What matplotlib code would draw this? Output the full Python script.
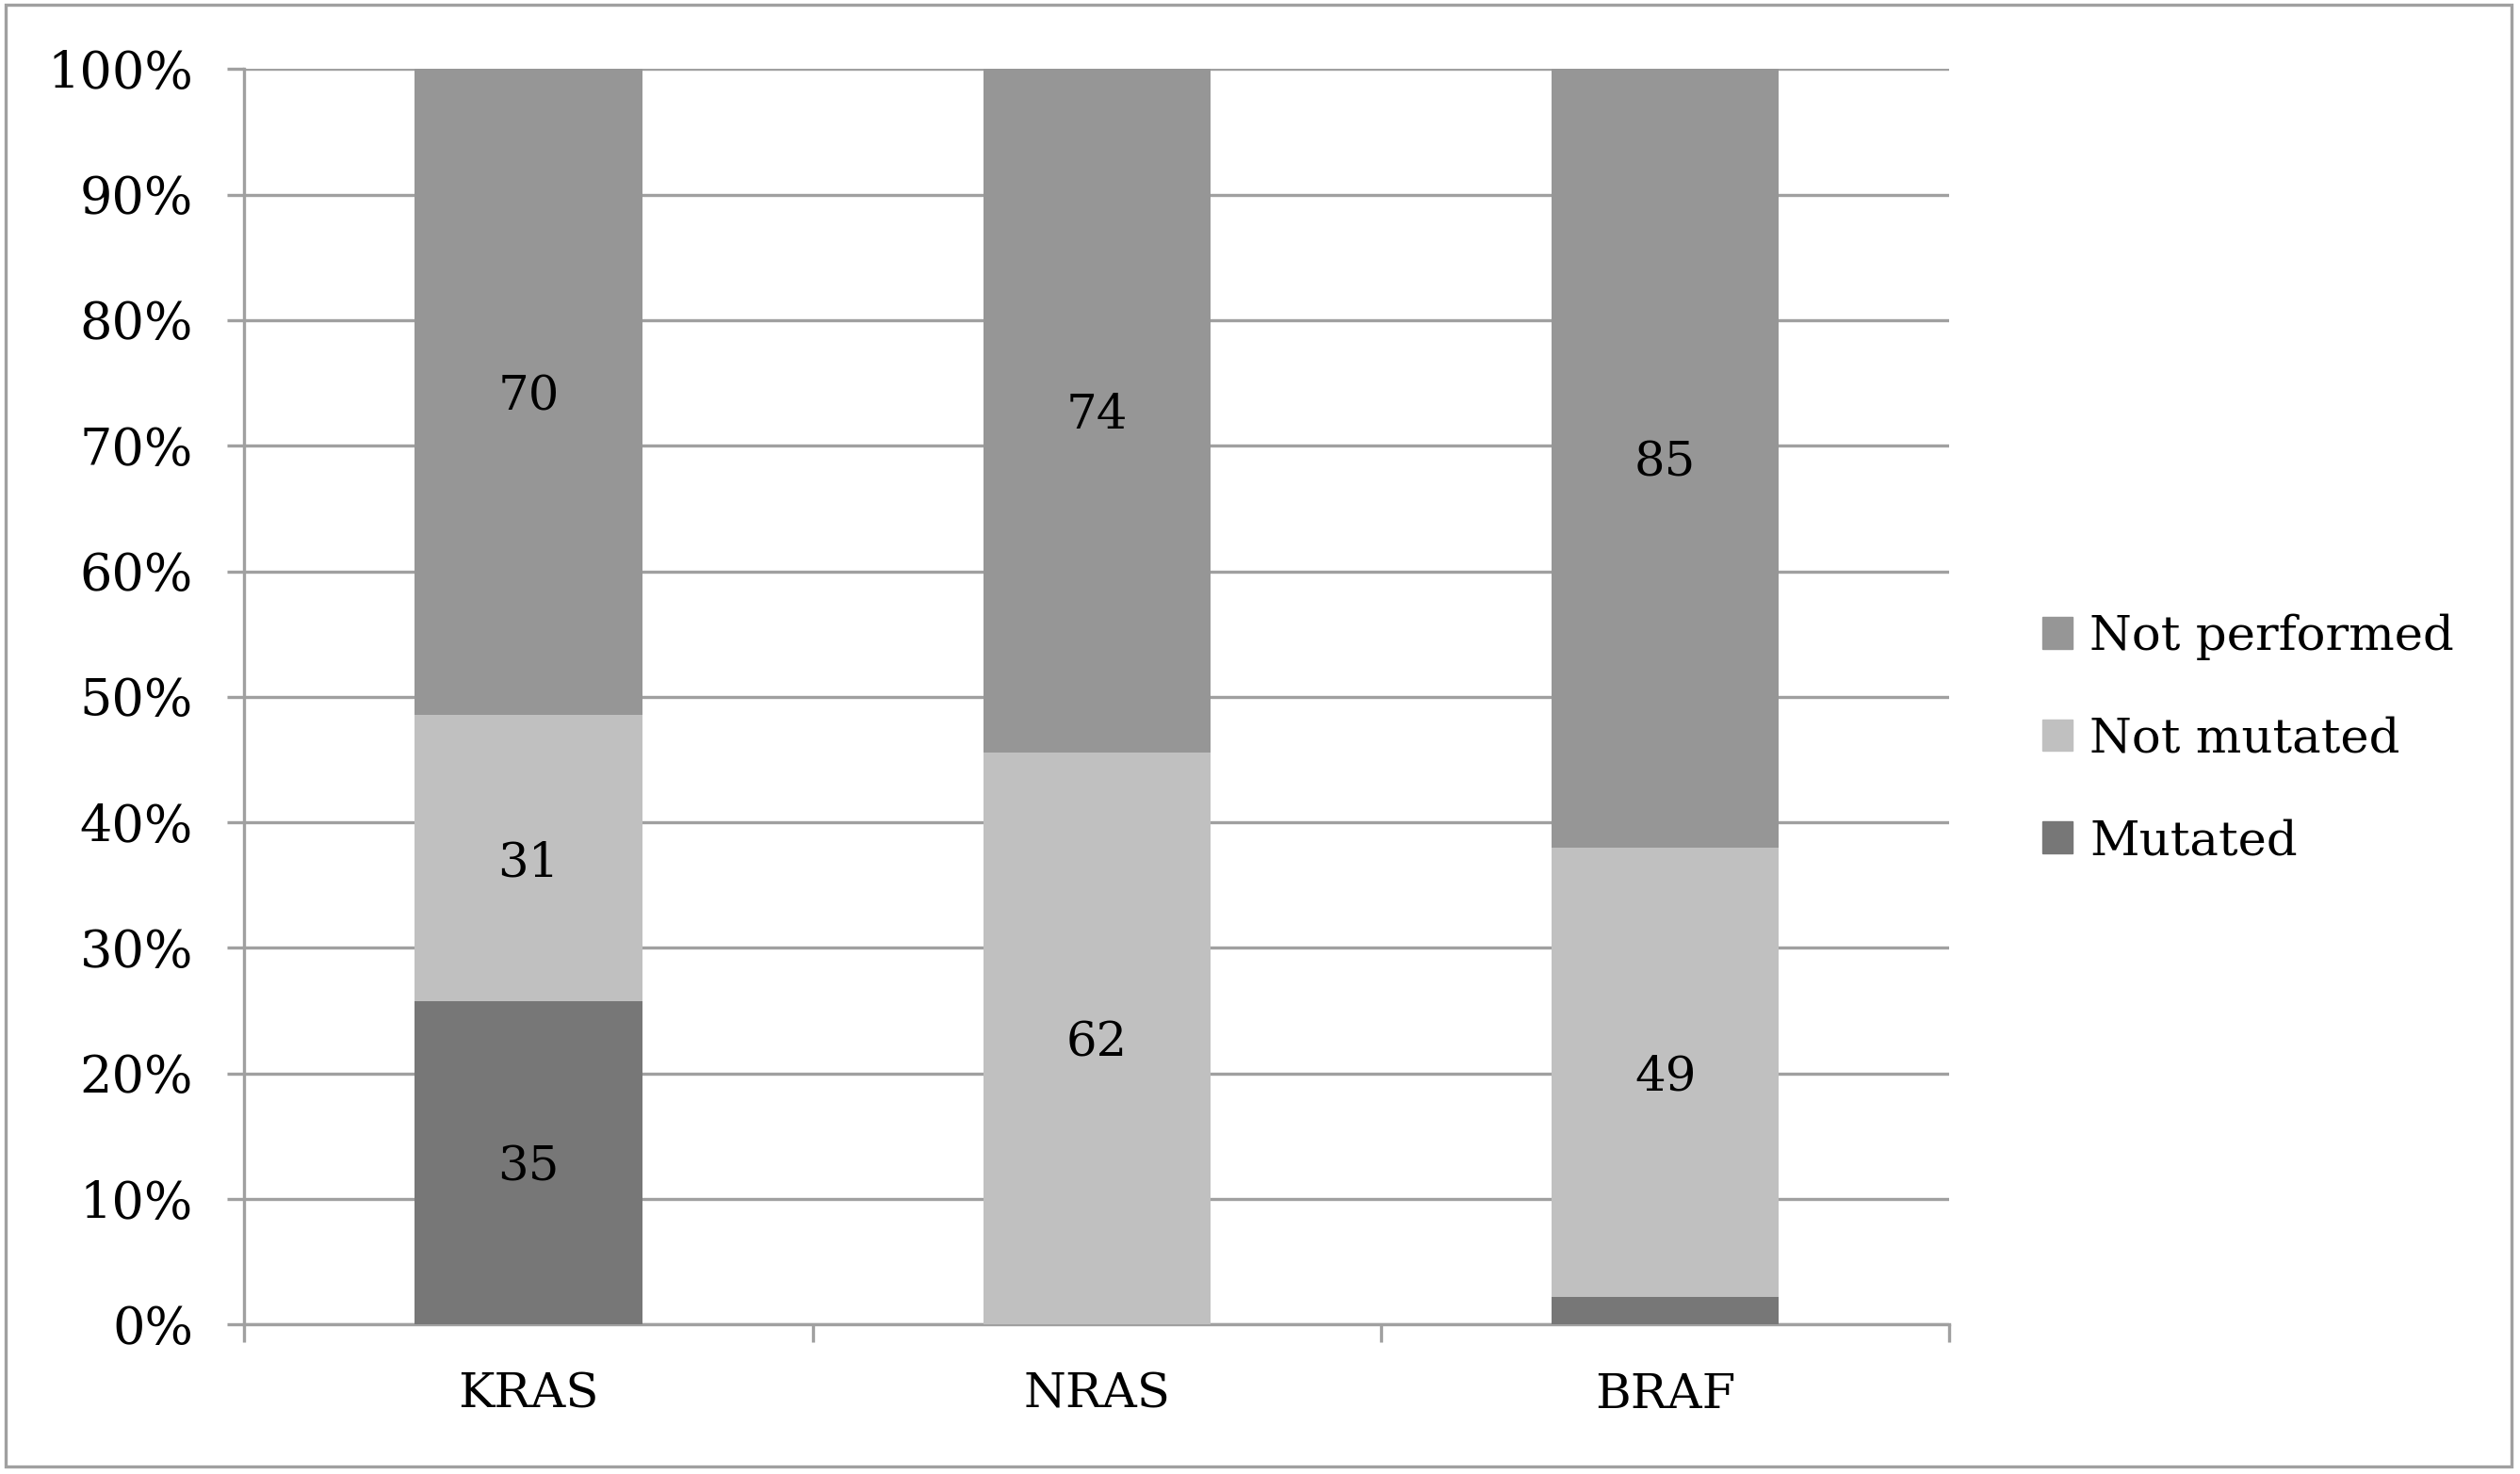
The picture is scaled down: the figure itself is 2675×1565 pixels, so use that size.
# stacked 100% bar chart: KRAS / NRAS / BRAF testing status
import matplotlib
matplotlib.use('Agg')
import matplotlib.pyplot as plt
from matplotlib.patches import Patch, Rectangle
import numpy as np

genes = ['KRAS', 'NRAS', 'BRAF']
mutated = [35, 0, 3]
not_mutated = [31, 62, 49]
not_performed = [70, 74, 85]

warna_mutated = '#777777'
warna_not_mutated = '#c0c0c0'
warna_not_performed = '#969696'
warna_garis = '#a0a0a0'

plt.rcParams['font.family'] = ['DejaVu Serif']

fig = plt.figure(figsize=(26.75, 15.65), dpi=100)
ax = fig.add_axes([0.0969, 0.1014, 0.6767, 0.8517])

total = np.array(mutated) + np.array(not_mutated) + np.array(not_performed)
p_mut = np.array(mutated) / total * 100
p_nmut = np.array(not_mutated) / total * 100
p_nperf = np.array(not_performed) / total * 100

x = np.arange(len(genes))
lebar = 0.40
ax.bar(x, p_mut, lebar, color=warna_mutated, zorder=3)
ax.bar(x, p_nmut, lebar, bottom=p_mut, color=warna_not_mutated, zorder=3)
ax.bar(x, p_nperf, lebar, bottom=p_mut + p_nmut, color=warna_not_performed, zorder=3)

# label angka di tengah tiap segmen (segmen kecil tidak diberi label)
for i in range(len(genes)):
    segmen = [(p_mut[i], 0, mutated[i]),
              (p_nmut[i], p_mut[i], not_mutated[i]),
              (p_nperf[i], p_mut[i] + p_nmut[i], not_performed[i])]
    for tinggi, bawah, nilai in segmen:
        if tinggi < 5:
            continue
        ax.text(x[i], bawah + tinggi / 2 - 0.4, str(nilai), ha='center', va='center',
                fontsize=37, zorder=4)

ax.set_xlim(-0.5, len(genes) - 0.5)
ax.set_ylim(0, 100)
ax.set_yticks(np.arange(0, 101, 10))
ax.set_yticklabels([f'{v}%' for v in range(0, 101, 10)])
ax.set_xticks(x)
ax.set_xticklabels(genes)
ax.set_xticks(np.arange(-0.5, len(genes), 1), minor=True)

ax.yaxis.grid(True, color=warna_garis, linewidth=2.4, zorder=0)
ax.set_axisbelow(True)

for s in ['top', 'right']:
    ax.spines[s].set_visible(False)
for s in ['left', 'bottom']:
    ax.spines[s].set_color(warna_garis)
    ax.spines[s].set_linewidth(2.4)

ax.tick_params(axis='y', length=13, width=2.4, color=warna_garis, pad=26, labelsize=39)
ax.tick_params(axis='x', which='major', length=0, pad=36, labelsize=37)
ax.tick_params(axis='x', which='minor', length=14, width=2.4, color=warna_garis)

handles = [Patch(color=warna_not_performed, label='Not performed'),
           Patch(color=warna_not_mutated, label='Not mutated'),
           Patch(color=warna_mutated, label='Mutated')]
fig.legend(handles=handles, loc='center left', bbox_to_anchor=(0.8106, 0.4985),
           frameon=False, fontsize=37, handlelength=0.62, handleheight=0.62,
           handletextpad=0.35, labelspacing=1.15, borderpad=0, borderaxespad=0)

# bingkai luar abu-abu
bingkai = Rectangle((0.0022, 0.0051), 0.9944, 0.9917, transform=fig.transFigure,
                    fill=False, edgecolor=warna_garis, linewidth=2.4)
fig.patches.append(bingkai)

fig.savefig('out.png', dpi=100)
